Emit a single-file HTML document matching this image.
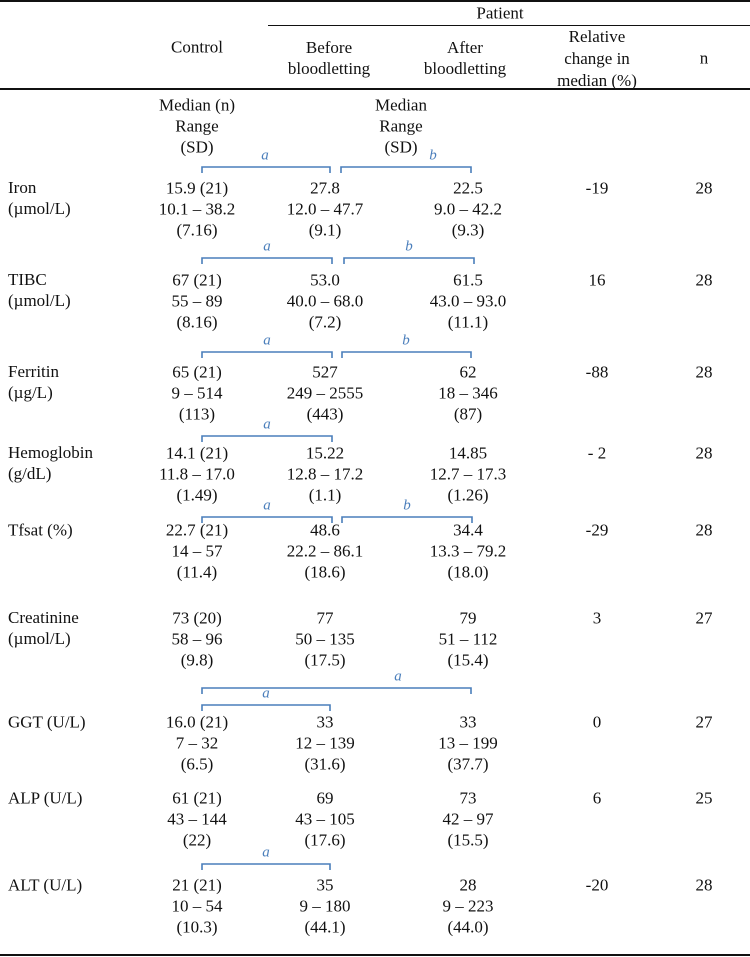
<!DOCTYPE html>
<html><head><meta charset="utf-8"><style>
body{margin:0;background:#fff;}
#t{position:relative;width:750px;height:957px;font-family:"Liberation Serif",serif;font-size:17px;color:#111;overflow:hidden}
.c{position:absolute;transform:translate(-50%,-50%);white-space:nowrap;text-align:center;line-height:21px}
.l{position:absolute;transform:translateY(-50%);white-space:nowrap;line-height:21px}
.r{position:absolute;left:0;width:750px;background:#111}
.lab{position:absolute;transform:translate(-50%,-50%);font-style:italic;color:#4a7ebb;font-size:15px}
svg{position:absolute;left:0;top:0}
</style></head><body>
<div id="t">
<div class="r" style="top:0;height:1.5px"></div>
<div class="r" style="top:25px;left:268px;width:482px;height:1.2px"></div>
<div class="r" style="top:88px;height:1.8px"></div>
<div class="r" style="top:954px;height:1.8px"></div>
<div class="c" style="left:500px;top:13px">Patient</div>
<div class="c" style="left:197px;top:47px">Control</div>
<div class="c" style="left:329px;top:58px">Before<br>bloodletting</div>
<div class="c" style="left:465px;top:58px">After<br>bloodletting</div>
<div class="c" style="left:597px;top:59px;line-height:22px">Relative<br>change in<br>median (%)</div>
<div class="c" style="left:704px;top:58px">n</div>
<div class="c" style="left:197px;top:126px">Median (n)<br>Range<br>(SD)</div>
<div class="c" style="left:401px;top:126px">Median<br>Range<br>(SD)</div>
<svg width="750" height="957" id="br"></svg>
<div id="rows"></div>
</div>
<script>
const names=[["Iron","(µmol/L)"],["TIBC","(µmol/L)"],["Ferritin","(µg/L)"],["Hemoglobin","(g/dL)"],["Tfsat (%)",""],["Creatinine","(µmol/L)"],["GGT (U/L)",""],["ALP (U/L)",""],["ALT (U/L)",""]];
const ctrl=[["15.9 (21)","10.1 – 38.2","(7.16)"],["67 (21)","55 – 89","(8.16)"],["65 (21)","9 – 514","(113)"],["14.1 (21)","11.8 – 17.0","(1.49)"],["22.7 (21)","14 – 57","(11.4)"],["73 (20)","58 – 96","(9.8)"],["16.0 (21)","7 – 32","(6.5)"],["61 (21)","43 – 144","(22)"],["21 (21)","10 – 54","(10.3)"]];
const before=[["27.8","12.0 – 47.7","(9.1)"],["53.0","40.0 – 68.0","(7.2)"],["527","249 – 2555","(443)"],["15.22","12.8 – 17.2","(1.1)"],["48.6","22.2 – 86.1","(18.6)"],["77","50 – 135","(17.5)"],["33","12 – 139","(31.6)"],["69","43 – 105","(17.6)"],["35","9 – 180","(44.1)"]];
const after=[["22.5","9.0 – 42.2","(9.3)"],["61.5","43.0 – 93.0","(11.1)"],["62","18 – 346","(87)"],["14.85","12.7 – 17.3","(1.26)"],["34.4","13.3 – 79.2","(18.0)"],["79","51 – 112","(15.4)"],["33","13 – 199","(37.7)"],["73","42 – 97","(15.5)"],["28","9 – 223","(44.0)"]];
const rel=["-19","16","-88","- 2","-29","3","0","6","-20"];
const nvals=["28","28","28","28","28","27","27","25","28"];
const rowY=[188,280,372,453,530,618,722,798,885];
const brackets=[[202,330,167,"a",265],[341,471,167,"b",433],[202,332,258,"a",267],[344,474,258,"b",409],[202,332,352,"a",267],[342,471,352,"b",406],[202,332,436,"a",267],[202,332,517,"a",267],[342,472,517,"b",407],[202,471,688,"a",398],[202,330,705,"a",266],[202,330,864,"a",266]];
const T=document.getElementById('t');
function add(cls,x,y,html,name){const d=document.createElement('div');d.className=cls;d.style.left=x+'px';d.style.top=y+'px';d.innerHTML=html;


T.appendChild(d);}
names.forEach((n,i)=>{const y=rowY[i];
add('l',8,y+ (n[1]?10:0),n[0]+(n[1]?'<br>'+n[1]:''),'row-label');
add('c',197,y+21,ctrl[i].join('<br>'),'control-values');
add('c',325,y+21,before[i].join('<br>'),'before-values');
add('c',468,y+21,after[i].join('<br>'),'after-values');
add('c',597,y,rel[i],'relative-change');
add('c',704,y,nvals[i],'n-value');
});
const S=document.getElementById('br');
brackets.forEach(b=>{const p=document.createElementNS('http://www.w3.org/2000/svg','path');
p.setAttribute('d',`M${b[0]},${b[2]+6}V${b[2]}H${b[1]}V${b[2]+6}`);
p.setAttribute('fill','none');p.setAttribute('stroke','#4a7ebb');p.setAttribute('stroke-width','1.6');


S.appendChild(p);
const d=document.createElement('div');d.className='lab';d.style.left=b[4]+'px';d.style.top=(b[2]-11)+'px';d.textContent=b[3];


T.appendChild(d);});
</script>
</body></html>
